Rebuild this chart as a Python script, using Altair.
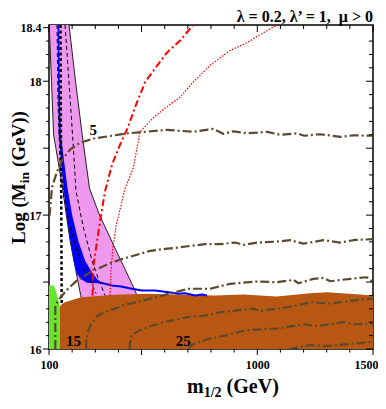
import altair as alt
import pandas as pd

# ---------------- data (m_1/2 in GeV, Log M_in) ----------------
# pink allowed band (left / right boundaries at common Log M_in values)
band_L = [18.42, 18.0, 17.6, 17.2, 17.0, 16.8, 16.6, 16.5, 16.4, 16.3]
band_left = [101, 110.8, 120, 158.8, 174.8, 192, 214.2, 225.4, 237, 249.2]
band_right = [186.5, 214.6, 243.5, 275, 318.4, 372.5, 427.4, 454.6, 480.6, 506.6]

# blue (WMAP) strip
blue_L = [18.42, 18.0, 17.6, 17.2, 17.0, 16.8, 16.66, 16.56, 16.52, 16.495]
blue_lo = [137, 139, 142, 163, 176, 193, 207, 221, 240, 265]
blue_hi = [144, 146.5, 151, 180, 200, 228, 256, 290, 310, 322]
blue_tail_m = [265, 320.6, 371.2, 411.4, 457.7, 501, 558.4, 616, 659.2, 688.2, 731.5, 760.4, 782]
blue_tail_L = [16.505, 16.496, 16.474, 16.467, 16.45, 16.437, 16.437, 16.424, 16.413, 16.417, 16.40, 16.407, 16.40]

# black lines
thick_dot_m = [149.7, 151.9, 154.9]
thick_dot_L = [18.42, 17.474, 16.341]
dashA_m = [134.6, 138.9, 147.6, 164.9, 190.8, 221.1, 251.4, 277.3, 303.3]
dashA_L = [18.42, 17.844, 17.4, 17.141, 16.919, 16.733, 16.6, 16.511, 16.415]
dashB_m = [169.2, 186.5, 203.8, 216.8, 247.1, 286, 316.3, 342.2]
dashB_L = [18.42, 17.993, 17.548, 17.178, 16.919, 16.659, 16.511, 16.40]

# red lines
red_dd_m = [288.1, 291.6, 307.6, 320.6, 342.2, 372.5, 407.1, 441.7, 472, 515.2, 558.4, 610.4, 666.6, 722.8]
red_dd_L = [16.40, 16.615, 16.807, 16.956, 17.178, 17.378, 17.526, 17.659, 17.807, 17.993, 18.096, 18.215, 18.304, 18.42]
red_dot_m = [363.8, 368.2, 376.8, 389.8, 407.1, 428.7, 463.3, 493.6, 545.5, 601.7, 666.6, 722.8, 796.3, 882.8, 956.4, 1012.6, 1086.1]
red_dot_L = [16.40, 16.585, 16.77, 16.919, 17.044, 17.2, 17.348, 17.622, 17.719, 17.8, 17.881, 17.993, 18.119, 18.23, 18.289, 18.348, 18.42]

# excluded regions
green_m = [100, 122, 140, 147]
green_L = [16.474, 16.474, 16.37, 16.32]
brown_m = [147, 150.6, 167.9, 239.7, 384.2, 528.2, 672.2, 816.7, 940.3, 1084.8, 1228.8, 1301, 1445.1, 1500]
brown_L = [16.31, 16.326, 16.35, 16.387, 16.405, 16.412, 16.405, 16.40, 16.407, 16.393, 16.417, 16.424, 16.407, 16.398]

# brown dash-dot contours
c1_m = [102.2, 113, 134.6, 160.6, 190.8, 234.1, 299, 372.5, 441.7, 515.2, 610.4, 722.8, 809.3, 852.6, 895.8, 956.4, 1042.9, 1099.1, 1172.6, 1202.9, 1272.1, 1358.6, 1414.8, 1500]
c1_L = [16.993, 17.207, 17.326, 17.422, 17.489, 17.541, 17.574, 17.593, 17.611, 17.622, 17.637, 17.622, 17.644, 17.607, 17.626, 17.611, 17.622, 17.6, 17.611, 17.593, 17.604, 17.585, 17.596, 17.593]
c2_m = [127.2, 127.2, 146.3, 182.2, 219.8, 255.7, 291.6, 355.2, 405.8, 464.6, 536.8, 601.7, 659.2, 709.8, 774.7, 839.6, 904.5, 940.3, 998.3, 1084.8, 1142.3, 1199.8, 1286.3, 1358.6, 1423.5, 1500]
c2_L = [16.0, 16.326, 16.378, 16.45, 16.511, 16.548, 16.585, 16.635, 16.667, 16.696, 16.733, 16.748, 16.758, 16.77, 16.783, 16.783, 16.795, 16.778, 16.795, 16.802, 16.813, 16.787, 16.813, 16.795, 16.815, 16.82]
c3_m = [260, 261.3, 270.8, 282.9, 311.9, 346.5, 384.2, 428.7, 484.9, 558.4, 644.9, 701.2, 796.3, 882.8, 998.3, 1084.8, 1156.6, 1178.2, 1243.1, 1286.3, 1315.3, 1401.8, 1474, 1500]
c3_L = [16.0, 16.067, 16.141, 16.19, 16.252, 16.281, 16.301, 16.333, 16.35, 16.387, 16.424, 16.45, 16.45, 16.487, 16.504, 16.499, 16.516, 16.491, 16.524, 16.531, 16.506, 16.524, 16.536, 16.499]
c4_m = [448.2, 449, 456, 493.6, 528.2, 600.4, 701.2, 787.7, 839.6, 983.6, 1012.6, 1156.6, 1228.8, 1315.3, 1416.1, 1500]
c4_L = [16.0, 16.03, 16.104, 16.141, 16.165, 16.202, 16.239, 16.252, 16.276, 16.301, 16.284, 16.319, 16.35, 16.339, 16.363, 16.376]
c5_m = [703.3, 715.4, 773.4, 830.9, 868.6, 955.1, 1084.8, 1199.8, 1257.8, 1372.8, 1416.1, 1500]
c5_L = [16.0, 16.03, 16.067, 16.091, 16.104, 16.141, 16.153, 16.185, 16.17, 16.202, 16.185, 16.19]
c6_m = [1138, 1156.6, 1228.8, 1301, 1401.8, 1500]
c6_L = [16.0, 16.005, 16.03, 16.022, 16.037, 16.054]

contour_labels = ["5", "15", "25"]
label_m = [291.6, 206, 679.6]
label_L = [17.637, 16.063, 16.063]

# axis ticks / labels
x_labels = [100, 1000, 1500]
x_major = [100, 500, 1000, 1500]
x_minor = [200, 300, 400, 600, 700, 800, 900, 1100, 1200, 1300, 1400]
y_labels = [16, 17, 18, 18.4]
y_major_left = [16.0, 16.5, 17.0, 17.5, 18.0, 18.4]
y_major = [16.0, 16.5, 17.0, 17.5, 18.0]
y_minor = [16.1, 16.2, 16.3, 16.4, 16.6, 16.7, 16.8, 16.9, 17.1, 17.2, 17.3, 17.4,
           17.6, 17.7, 17.8, 17.9, 18.1, 18.2, 18.3]

# ---------------- chart ----------------
W = H = 324
FONT = "Liberation Serif"
xs = alt.Scale(domain=[100, 1500], nice=False, zero=False)
ys = alt.Scale(domain=[16, 18.42], nice=False, zero=False)
xaxis = alt.Axis(values=x_labels, ticks=False, domain=False, grid=False, title=None,
                 labelFont=FONT, labelFontWeight="bold", labelFontSize=12, labelColor="black",
                 labelPadding=10, labelFlush=False, labelOverlap=False, format="d",
                 labelAlign={"condition": {"test": "datum.value == 1500", "value": "right"},
                             "value": "center"},
                 labelOffset={"condition": {"test": "datum.value == 1500", "value": 5},
                              "value": 0})
yaxis = alt.Axis(values=y_labels, ticks=False, domain=False, grid=False, title=None,
                 labelFont=FONT, labelFontWeight="bold", labelFontSize=12, labelColor="black",
                 labelPadding=8, labelFlush=False, labelOverlap=False, format="~g")


def X(f):
    return alt.X(f, type="quantitative", scale=xs, axis=xaxis)


def Y(f):
    return alt.Y(f, type="quantitative", scale=ys, axis=yaxis)


def line_layer(ms, ls, color, width, dash=None):
    df = pd.DataFrame({"m": ms, "L": ls, "i": list(range(len(ms)))})
    kw = dict(color=color, strokeWidth=width, clip=True, strokeCap="butt", strokeJoin="round")
    if dash:
        kw["strokeDash"] = dash
    return alt.Chart(df).mark_line(**kw).encode(x=X("m"), y=Y("L"), order="i:Q")


def hband(Ls, lo, hi, color):
    df = pd.DataFrame({"L": Ls, "lo": lo, "hi": hi})
    return alt.Chart(df).mark_area(color=color, orient="horizontal", clip=True, opacity=1).encode(
        y=Y("L"), x=X("lo"), x2="hi")


def vregion(ms, ls, color):
    df = pd.DataFrame({"m": ms, "L": ls, "base": [16.0] * len(ms)})
    return alt.Chart(df).mark_area(color=color, clip=True, opacity=1).encode(
        x=X("m"), y=Y("L"), y2="base")


def ticks_x(vals, y0, y1):
    df = pd.DataFrame({"v": vals})
    return alt.Chart(df).mark_rule(color="black", strokeWidth=1).encode(
        x=X("v"), y=alt.value(y0), y2=alt.value(y1))


def ticks_y(vals, x0, x1):
    df = pd.DataFrame({"v": vals})
    return alt.Chart(df).mark_rule(color="black", strokeWidth=1).encode(
        y=Y("v"), x=alt.value(x0), x2=alt.value(x1))


def txt(text, x, y, size, angle=0, align="left"):
    return alt.Chart(pd.DataFrame({"k": [0]})).mark_text(
        text=text, font=FONT, fontWeight="bold", fontSize=size, angle=angle,
        align=align, baseline="alphabetic", color="black").encode(
        x=alt.value(x), y=alt.value(y))


PINK = "#EE99EE"
BLUE = "#0000FF"
RED = "#FF0000"
CONT = "#5B4A2E"

layers = [
    hband(band_L, band_left, band_right, PINK),
    line_layer(band_left, band_L, "#222222", 1),
    line_layer(band_right, band_L, "#222222", 1),
    hband(blue_L, blue_lo, blue_hi, BLUE),
    vregion(green_m, green_L, "#66E62A"),
    vregion(brown_m, brown_L, "#B85712"),
    line_layer(blue_tail_m, blue_tail_L, BLUE, 2),
    line_layer(thick_dot_m, thick_dot_L, "black", 2.5, [3, 2.5]),
    line_layer(dashA_m, dashA_L, "black", 1, [4, 3]),
    line_layer(dashB_m, dashB_L, "black", 1, [4, 3]),
    line_layer(red_dd_m, red_dd_L, RED, 2, [7, 3, 2, 3]),
    line_layer(red_dot_m, red_dot_L, RED, 1.2, [1.5, 1.5]),
]
for cm, cl in [(c1_m, c1_L), (c2_m, c2_L), (c3_m, c3_L), (c4_m, c4_L), (c5_m, c5_L), (c6_m, c6_L)]:
    layers.append(line_layer(cm, cl, CONT, 2.2, [9, 3, 2, 3]))

labels_df = pd.DataFrame({"t": contour_labels, "m": label_m, "L": label_L})
layers.append(alt.Chart(labels_df).mark_text(font=FONT, fontWeight="bold", fontSize=15,
                                             color="black", baseline="middle").encode(
    x=X("m"), y=Y("L"), text="t:N"))

# ticks: bottom & left outside, top & right inside
layers += [
    ticks_x(x_major, H, H + 6), ticks_x(x_minor, H, H + 3.5),
    ticks_x(x_major, 0, 7), ticks_x(x_minor, 0, 4),
    ticks_y(y_major_left, 0, -6), ticks_y(y_minor, 0, -3),
    ticks_y(y_major, W, W - 7), ticks_y(y_minor, W, W - 4),
]

# titles
layers += [
    txt("λ = 0.2, λ’ = 1,\u00a0\u00a0μ > 0", W, -3.5, 16, align="right"),
    txt("m", 138, 368, 20),
    txt("1/2", 154.7, 372, 14),
    txt("(GeV)", 177.6, 368, 20),
    txt("Log (M", -24, 219, 19, angle=270),
    txt("in", -20, 158.3, 13.5, angle=270),
    txt("(GeV))", -24, 142, 19, angle=270),
]

chart = alt.layer(*layers).properties(
    width=W, height=H,
    autosize=alt.AutoSizeParams(type="none"),
    padding={"left": 41, "top": 17, "right": 5, "bottom": 52},
).configure_view(stroke="black", strokeWidth=1.5)

chart.save("out.html", embed_options={"renderer": "svg", "actions": False})
